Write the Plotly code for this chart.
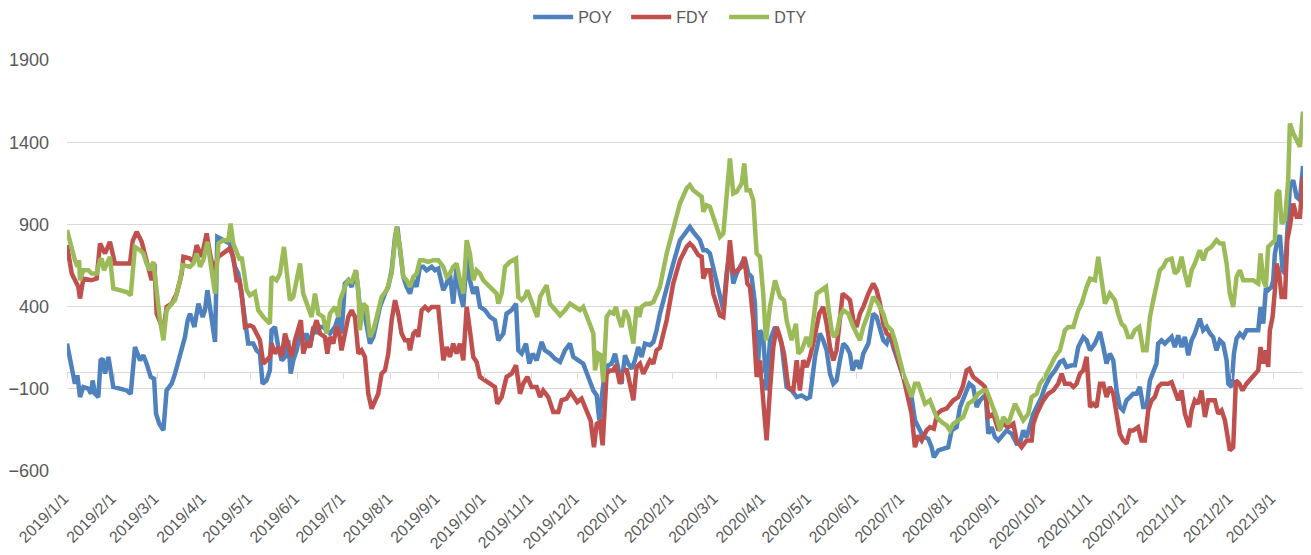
import pandas as pd
import plotly.graph_objects as go

START = "2019-01-01"
END = "2021-03-20"

# day offsets from START and values
POY_DAY = [0, 3.1, 5.2, 6.8, 8.5, 10.7, 14, 15.7, 16.8, 18.3, 20.5, 22, 23.3, 24.9, 27.1, 30.3, 34.7, 39.1, 41.7,
           44.5, 47.8, 50, 52.1, 54.8, 57, 58.3, 60.4, 63.1, 65.2, 68.5, 70.7, 72.9, 76.2, 77.2, 79, 80.5, 83.4, 86,
           88.8, 90.3, 91.9, 93.6, 95.4, 96.9, 98.4, 102.3, 106.6, 109.9, 112.1, 113.6, 115.4, 117.1, 118.6, 121.9,
           124.1, 126.3, 128, 130.6, 132.8, 133.9, 136.1, 138.3, 140.5, 142.7, 144.8, 146.4, 148.1, 150.3, 152.5,
           154.6, 156.8, 159, 161.2, 163.4, 165.6, 167.7, 169.9, 172.1, 175.4, 177.6, 179.7, 181.9, 184.1, 186.3,
           189.1, 191.7, 193.9, 196.1, 198.3, 200.5, 202.7, 204.8, 208.1, 210.3, 212.5, 214.7, 216.2, 217.9, 220.1,
           222.3, 224.5, 226.7, 228.8, 231, 233.2, 235.4, 238.7, 240.8, 243, 246.3, 248.5, 250.6, 252.8, 255, 257.2,
           259.4, 261.6, 263.7, 265.9, 268.1, 270.3, 273.6, 276.8, 280.1, 282.3, 285.6, 287.7, 291, 293.9, 295.4,
           297.6, 300.4, 302.6, 304.8, 307.4, 310.7, 312.8, 316.1, 319.4, 322.7, 325.9, 329.2, 331.4, 334.7, 337.9,
           341.2, 344.5, 346.7, 348.4, 349.9, 352.1, 354.3, 356.5, 358.7, 360.8, 363, 365.2, 367.4, 369.6, 371.7,
           373.9, 376.1, 378.3, 381.6, 383.8, 385.9, 388.1, 392.5, 396.8, 401.2, 405.6, 407.7, 409.9, 414.3, 416.5,
           418.6, 420.8, 423, 425.2, 427.4, 429.6, 431.7, 433.9, 436.1, 438.3, 441.6, 443.7, 445.9, 448.1, 450.3,
           451.8, 453.6, 455.7, 457.9, 460.1, 463.4, 465.6, 467.7, 471, 474.3, 477.6, 480.8, 484.1, 486.3, 489.6,
           492.8, 495, 497.2, 499.4, 501.6, 503.7, 505.9, 508.1, 510.3, 512.5, 514.2, 516.8, 519, 521.2, 524.5,
           527.7, 529.9, 532.1, 534.3, 536.5, 538.6, 540.8, 544.1, 547.4, 550.6, 552.8, 555, 557.2, 559.4, 561.6,
           563.7, 565.9, 567.4, 570.3, 573.6, 576.8, 579, 582.3, 584.5, 587.7, 590.6, 593.2, 595.4, 597.6, 599.7,
           601.5, 603, 605.2, 607.4, 609.6, 612.8, 615, 618.3, 621.6, 623.7, 625.9, 628.1, 630.3, 632.5, 634.7,
           637.9, 640.1, 643.4, 646.7, 649.9, 652.1, 654.3, 657.6, 659.7, 661.9, 665.2, 667.4, 669.6, 672.8, 676.1,
           678.3, 680.4, 682.6, 684.8, 687, 689.1, 691.3, 693.5, 695.7, 697.9, 700.1, 702.2, 704.4, 706.6, 708.8,
           711, 713.1, 714.2, 716.4, 718.6, 720.8, 723, 725.1, 727.3, 729.5, 731.7, 733.9, 736.1, 738.2, 741.5,
           743.7, 745.9, 748.1, 750.2, 752.4, 754.6, 756.8, 759, 760.1, 762.2, 763.8, 765.5, 767.7, 769.9, 772.1,
           774.2, 777.5, 779.7, 781.2, 783, 784.7, 786.2, 788.4, 789.5, 790.6, 792.3, 793.9, 795.6, 797.2, 798.7,
           800.4, 802.6, 804.8, 807, 809]
POY = [175, 33, -69, -18, -150, -89, -99, -130, -49, -130, -150, 73, 83, -8, 94, -89, -99, -110, -130,
       154, 73, 104, 53, -28, -38, -252, -313, -353, -110, -69, -8, 73, 175, 215, 317, 357, 276, 418,
       337, 378, 500, 398, 276, 185, 824, 804, 784, 642, 601, 520, 398, 236, 175, 175,
       134, 114, -69, -49, 12, 256, 276, 154, 73, 94, 195, -8, 73, 134, 236,
       195, 236, 154, 276, 236, 276, 276, 256, 236, 276, 337, 236, 540, 560, 520,
       621, 398, 398, 276, 175, 215, 296, 398, 479, 520, 621, 824, 885, 723, 581,
       520, 479, 560, 520, 642, 642, 621, 642, 621, 631, 500, 540, 601, 418, 642, 479,
       398, 703, 560, 479, 520, 398, 378, 337, 317, 195, 236, 357, 378, 418, 134,
       114, 175, 53, 114, 73, 185, 134, 114, 83, 63, 134, 175, 94, 73, 53,
       -28, -110, -140, -292, -160, 12, 43, 53, 114, 22, -69, 104, 53, 22, 73,
       154, 94, 175, 165, 185, 256, 357, 520, 662, 804, 865, 885, 855, 804, 743,
       743, 723, 642, 560, 459, 378, 601, 743, 540, 601, 662, 692, 601, 581, 418,
       -28, 256, 215, -110, 195, 276, 236, 175, -89, -110, -150, -140, -160, -150, 94,
       236, 195, 134, -8, -69, -49, 73, 175, 154, 114, 12, 73, 22, 114, 175,
       357, 337, 276, 195, 175, 236, 154, 53, -28, -89, -150, -292, -333, -373, -394,
       -404, -455, -516, -475, -465, -455, -353, -333, -211, -130, -69, -89, -211, -170, -150,
       -160, -373, -333, -394, -414, -373, -353, -373, -434, -434, -353, -394, -313, -252, -211,
       -150, -89, -28, 12, 63, 73, 33, 43, 43, 154, 215, 195, 134, 175, 246,
       154, 53, 114, 73, -110, -211, -231, -170, -150, -130, -130, -89, -211, -211, -49,
       12, 53, 175, 195, 175, 195, 215, 154, 225, 154, 215, 104, 195, 236, 327,
       256, 276, 236, 215, 134, 195, 175, 73, -69, -89, 114, 205, 236, 215, 256,
       256, 256, 256, 398, 296, 510, 500, 520, 560, 723, 804, 834, 621, 601, 845,
       1129, 1169, 1068, 1048, 1255]

FDY_DAY = [0, 3.1, 7.4, 8.5, 10.7, 16, 19.4, 21.6, 24.9, 28.1, 31.4, 41.2, 43, 45.6, 48.9, 51, 54.3, 55.4,
           56.5, 57.2, 58.7, 60.9, 63.1, 65.2, 68.5, 71.8, 75.1, 76.2, 80.5, 82.7, 84.9, 88.2, 91.4, 93.6, 95.8,
           99.1, 103.4, 106.6, 108.8, 111, 112.8, 114.3, 116.5, 119.7, 121.9, 124.1, 126.3, 128.5, 130.6, 132.8,
           133.9, 136.1, 138.3, 140.5, 142.7, 144.8, 147, 149.2, 151.4, 153.1, 154.6, 156.8, 159, 161.2, 163.4,
           165.6, 168.8, 170.4, 172.1, 174.3, 176.5, 178.2, 179.7, 181.9, 184.1, 186.3, 188.5, 190.7, 192.8, 195,
           197.2, 199.4, 201.6, 203.7, 205.9, 208.1, 210.3, 212.5, 214.7, 216.8, 219, 221.2, 223.4, 224.5, 226.7,
           228.8, 229.9, 232.1, 234.3, 236.5, 238.7, 240.8, 243, 246.3, 248.5, 250.6, 252.8, 255, 257.2, 259.4,
           261.6, 263.7, 265.9, 268.1, 270.3, 273.6, 276.8, 280.1, 281.6, 284.5, 287.7, 291, 293.9, 296.5, 298.6,
           301.3, 304.1, 307.4, 309.6, 311.7, 315, 318.3, 321.6, 323.7, 327, 329.6, 331.8, 334, 336.8, 340.1,
           342.7, 344.9, 346.7, 348.8, 350.6, 353.2, 355.4, 357.6, 359.3, 361.9, 364.1, 366.3, 368.5, 370.7,
           372.8, 375, 377.2, 379.4, 381.6, 383.8, 385.9, 388.1, 392.5, 396.8, 401.2, 405.6, 407.7, 409.9, 413.2,
           415.4, 416.5, 418.6, 420.8, 423, 425.2, 427.4, 429.6, 431.7, 433.9, 436.1, 438.3, 441.6, 443.3, 445.3,
           447, 449.2, 451.4, 453.6, 455.7, 457.9, 460.1, 462.3, 464.5, 466.7, 469.3, 472.1, 475.4, 477.6, 479.7,
           481.9, 484.1, 486.3, 488.9, 492.4, 495, 497.2, 499.4, 501.6, 503.7, 505.9, 507.7, 510.3, 512.5, 514.7,
           516.8, 519, 521.2, 524.5, 527.7, 529.9, 532.1, 534.3, 536.5, 539.7, 541.9, 544.1, 547.4, 550.6, 552.8,
           555, 557.2, 559.4, 562.6, 564.8, 567.4, 569.6, 572.5, 575.7, 577.9, 580.1, 583.4, 586.2, 588.8, 590.6,
           593.2, 596.5, 598.7, 600.8, 603, 606.3, 609.6, 612.8, 616.1, 619.4, 621.6, 624.8, 628.1, 631.4, 632.5,
           634.7, 636.8, 639, 642.3, 645.6, 648.8, 651, 653.2, 656.5, 658.7, 660.8, 663, 665.2, 667.4, 669.6,
           671.7, 673.9, 676.1, 678.3, 680.4, 682.6, 684.8, 687, 689.1, 691.3, 693.5, 695.7, 697.9, 701.1, 703.3,
           705.5, 707.7, 709.9, 712, 714.2, 716.4, 718.6, 720.8, 723, 725.1, 727.3, 729.5, 731.7, 734.5, 736.1,
           738.2, 740.4, 742.6, 744.8, 747, 749.1, 751.3, 753.5, 755.7, 757.9, 760.1, 761.1, 763.3, 765.1, 767.3,
           769.4, 772.1, 774.2, 777.5, 779.7, 781.2, 783, 784.7, 786.2, 787.3, 789.1, 790.6, 791.7, 793.4, 795,
           797.2, 798.7, 800.4, 802.6, 804.8, 807, 809]
FDY = [774, 601, 520, 449, 570, 560, 570, 784, 723, 794, 662, 662, 800, 855, 794, 723, 621, 560,
       601, 662, 357, 296, 256, 398, 418, 479, 601, 703, 692, 672, 774, 703, 845, 723, 621,
       703, 733, 754, 703, 560, 560, 479, 276, 286, 276, 236, 195, 53, 73, 94,
       175, 114, 154, 94, 236, 154, 94, 195, 256, 317, 114, 175, 154, 256, 317,
       236, 215, 114, 215, 175, 276, 236, 134, 256, 337, 378, 337, 114, 134, 94,
       -130, -221, -170, -130, -8, 12, 114, 317, 439, 357, 236, 195, 195, 134, 236,
       256, 215, 378, 398, 378, 398, 398, 398, 73, 154, 94, 175, 114, 175, 73,
       398, 256, 94, 63, -28, -49, -69, -89, -191, -150, -28, -8, 43, -130, -69,
       -28, -89, -89, -150, -110, -150, -241, -241, -170, -160, -120, -150, -181, -160, -231,
       -292, -455, -313, -302, -444, -8, 12, 12, 43, -69, -8, 22, -69, -170,
       33, 53, -8, 33, 73, 53, 134, 150, 317, 540, 682, 763, 784, 763, 713,
       703, 570, 621, 621, 479, 418, 347, 337, 560, 804, 601, 621, 642, 703, 540,
       520, 317, -28, 73, -170, -414, -110, 154, 276, 215, 114, -89, -110, 73, -110,
       73, 33, 94, 195, 357, 398, 296, 154, 73, 134, 296, 479, 459, 439, 317,
       276, 357, 398, 479, 540, 500, 420, 296, 236, 215, 154, 73, -28, -150, -252,
       -455, -384, -414, -353, -333, -343, -252, -231, -221, -191, -170, -150, -89, 12, 22,
       -28, -49, -69, -89, -272, -252, -353, -313, -333, -313, -414, -455, -414, -414, -313,
       -252, -211, -170, -130, -110, -69, -8, -69, -69, -89, -69, -8, 12, 94, -211,
       -191, -211, -69, -69, -150, -89, -130, -252, -373, -414, -434, -353, -353, -333, -414,
       -414, -231, -170, -150, -89, -69, -69, -69, -59, -110, -170, -110, -252, -333, -231,
       -170, -191, -110, -272, -170, -170, -170, -252, -231, -292, -414, -475, -455, -49, -69,
       -110, -69, -49, -8, 12, 154, 53, 134, 33, 256, 337, 500, 662, 601, 459,
       459, 804, 885, 1027, 946, 946, 1190]

DTY_DAY = [0, 3.1, 5.2, 6.8, 7.9, 8.5, 10.7, 14, 16.1, 19.4, 21.6, 22.7, 24.2, 27.1, 28.1, 30.3, 34.7, 39.1,
           41.7, 44.5, 47.8, 50, 52.1, 54.3, 56.5, 57.6, 58.7, 60.9, 63.1, 65.2, 68.5, 70.7, 71.8, 74, 75.7,
           80.5, 82.7, 84.9, 87.1, 89.2, 91.9, 93.6, 95.4, 96.9, 99.1, 102.3, 105.6, 107.1, 108.8, 111, 113.2,
           114.3, 115.4, 117.6, 119.7, 123, 125.2, 128.5, 132.8, 133.9, 137.2, 139.4, 142, 143.7, 145.9, 148.1,
           150.3, 152.5, 154.6, 156.8, 160.1, 162.3, 164.5, 167.7, 169.9, 172.1, 175.4, 177.6, 178.7, 181.9,
           184.1, 186.3, 189.1, 190.7, 191.7, 193.9, 196.1, 198.3, 200.5, 202.7, 205.9, 209.2, 212.5, 214.7,
           215.7, 217.9, 220.1, 222.3, 224.5, 226.7, 228.8, 231, 233.2, 236.5, 239.7, 243, 246.3, 248.5, 250.6,
           252.8, 255, 257.2, 259.4, 261.6, 263.7, 265.9, 268.1, 270.3, 272.5, 276.8, 281.2, 282.3, 284.5, 286.7,
           289.9, 293.9, 295.4, 297.6, 299.7, 301.3, 303, 305.2, 307.8, 309.6, 311.7, 313.9, 316.1, 319.4, 322.7,
           325.9, 329.2, 332.5, 335.7, 337.9, 340.1, 342.3, 344.5, 345.6, 347.7, 349.5, 351, 353.2, 355.4, 357.6,
           359.3, 360.8, 363, 365.2, 367.4, 370.7, 372.8, 374.6, 376.1, 379, 381.6, 383.8, 385.9, 388.1, 392.5,
           396.8, 401.2, 405.6, 407.7, 409.9, 413.2, 415.4, 416.5, 418.6, 420.8, 423, 425.2, 427.4, 429.6, 431.7,
           433.9, 436.1, 438.3, 441.6, 443.3, 444.8, 447, 449.2, 451.4, 453.6, 455.7, 457.5, 460.1, 463.4, 466.7,
           469.3, 471, 474.3, 477.1, 478.7, 480.8, 484.1, 486.3, 490.7, 493.9, 496.8, 498.3, 500.5, 502, 503.7,
           505.9, 508.1, 511.4, 514.7, 519, 521.2, 524.5, 527.7, 531, 534.3, 536.5, 539.7, 541.9, 544.1, 547.4,
           550.6, 552.8, 555, 557.2, 559.4, 561.6, 564.8, 567, 569.2, 572.5, 575.7, 577.9, 580.1, 583.4, 586.6,
           589.9, 593.2, 596.5, 599.7, 601.9, 605.2, 608.5, 610.7, 612.8, 616.1, 618.3, 620.5, 623.7, 625.9,
           629.2, 631.4, 634.7, 636.8, 640.1, 643.4, 646.7, 649.9, 653.2, 655.4, 658.7, 661.9, 664.1, 667.4,
           669.6, 672.8, 675, 677.2, 679.4, 682.6, 685.9, 688, 690.2, 692.4, 694.6, 696.8, 699, 701.8, 704.4,
           706.6, 708.8, 711, 713.1, 715.3, 717.5, 719.7, 723, 725.1, 727.3, 729.5, 731.7, 733.9, 736.1, 738.2,
           741.5, 743.7, 745.9, 749.1, 752.4, 754.6, 756.8, 759, 761.1, 763.3, 765.5, 767.7, 769.9, 773.1, 776.4,
           779.7, 781.2, 783, 784.7, 786.2, 788.4, 790.6, 791.7, 793.4, 795, 797.2, 799.3, 800.4, 802.6, 804.8,
           807, 808.3, 809]
DTY = [865, 743, 682, 642, 682, 560, 621, 621, 601, 601, 682, 692, 621, 682, 703, 510, 500, 489,
       469, 763, 743, 723, 662, 621, 672, 581, 439, 317, 195, 378, 418, 439, 479, 560, 652,
       642, 662, 723, 642, 682, 794, 682, 560, 479, 784, 804, 804, 905, 784, 723, 682,
       703, 642, 500, 469, 489, 378, 337, 296, 581, 560, 601, 763, 642, 439, 459,
       581, 662, 479, 418, 337, 479, 357, 337, 236, 357, 398, 337, 439, 520,
       560, 550, 621, 500, 256, 418, 398, 215, 256, 337, 459, 500, 601, 804,
       885, 763, 581, 560, 520, 581, 601, 682, 682, 672, 682, 682, 642, 581, 601,
       642, 662, 560, 479, 804, 723, 560, 621, 601, 560, 520, 479, 418, 479, 642,
       672, 692, 459, 439, 459, 500, 459, 398, 337, 459, 500, 530, 418, 378, 347,
       378, 418, 398, 378, 398, 337, 276, 236, 12, 114, 104, -59, 337, 368, 357,
       398, 337, 276, 378, 337, 175, 398, 337, 398, 418, 418, 428, 479, 520, 723,
       885, 1027, 1119, 1139, 1108, 1088, 1068, 977, 1017, 1007, 946, 885, 824, 845, 1068,
       1301, 1088, 1098, 1149, 1271, 1108, 1108, 1048, 723, 703, 479, 195, 398, 560, 459,
       439, 317, 195, 296, 114, 134, 215, 154, 479, 500, 520, 398, 256, 215, 236,
       337, 378, 357, 276, 195, 276, 357, 459, 418, 357, 286, 256, 195, 114, -8,
       -89, -150, -69, -69, -130, -191, -170, -231, -272, -302, -323, -353, -313, -292, -272,
       -191, -170, -130, -110, -110, -191, -272, -353, -272, -313, -252, -191, -252, -292,
       -252, -150, -130, -69, -28, 33, 94, 134, 256, 276, 276, 378, 418, 520,
       570, 560, 703, 560, 418, 479, 439, 357, 296, 276, 215, 215, 256, 276, 134,
       134, 337, 439, 520, 621, 642, 682, 692, 601, 621, 703, 601, 520, 621, 662,
       743, 682, 743, 763, 804, 784, 784, 662, 479, 398, 581, 621, 560, 560, 560,
       540, 723, 560, 520, 763, 784, 804, 1088, 1108, 905, 926, 1169, 1514, 1454, 1413,
       1372, 1514, 1586]

SERIES = [("POY", POY_DAY, POY, "#4F81BD"),
          ("FDY", FDY_DAY, FDY, "#C0504D"),
          ("DTY", DTY_DAY, DTY, "#9BBB59")]

Y_MIN, Y_MAX = -600, 1900
Y_TICKS = [-600, -100, 400, 900, 1400, 1900]

base = pd.Timestamp(START)
fig = go.Figure()
for name, days, vals, color in SERIES:
    dates = base + pd.to_timedelta(days, unit="D")
    fig.add_trace(go.Scatter(x=dates, y=vals, name=name, mode="lines",
                             line=dict(color=color, width=4.5, shape="linear")))

# helper trace that carries the category axis drawn across value 0
fig.add_trace(go.Scatter(x=[START], y=[None], xaxis="x2", showlegend=False,
                         hoverinfo="skip", mode="lines"))

GRID = "#d9d9d9"
FONT = "Liberation Sans, Arial, sans-serif"
# the page body has an 8px margin, so the figure is sized to fit the window
fig.update_layout(
    width=1303, height=547,
    margin=dict(l=59, r=8, t=52, b=84, autoexpand=False),
    plot_bgcolor="white", paper_bgcolor="white",
    font=dict(family=FONT, size=16, color="#595959"),
    showlegend=True,
    legend=dict(orientation="h", xref="container", yref="container",
                x=0.512, xanchor="center", y=1 - 9 / 547, yanchor="middle",
                font=dict(size=16, color="#595959"), itemwidth=40,
                entrywidth=43, entrywidthmode="pixels"),
    xaxis=dict(type="date", range=[START, END], dtick="M1", tick0=START,
               tickformat="%Y/%-m/%-d", tickangle=-45, showgrid=False,
               showline=False, ticks="", tickfont=dict(size=16, color="#595959"),
               ticklabelstandoff=14, ticklabelshift=-3),
    xaxis2=dict(type="date", matches="x", overlaying="x", anchor="free",
                position=(0 - Y_MIN) / (Y_MAX - Y_MIN), dtick="M1", tick0=START,
                showticklabels=False, showgrid=False, showline=False,
                ticks="outside", ticklen=6, tickwidth=1.3, tickcolor=GRID),
    yaxis=dict(range=[Y_MIN, Y_MAX], tickvals=Y_TICKS, showgrid=True,
               gridcolor=GRID, gridwidth=1.3, zeroline=True,
               zerolinecolor=GRID, zerolinewidth=1.3, showline=False,
               ticks="", tickfont=dict(size=18, color="#595959"),
               ticklabelstandoff=17),
)
fig.write_html("out.html")
